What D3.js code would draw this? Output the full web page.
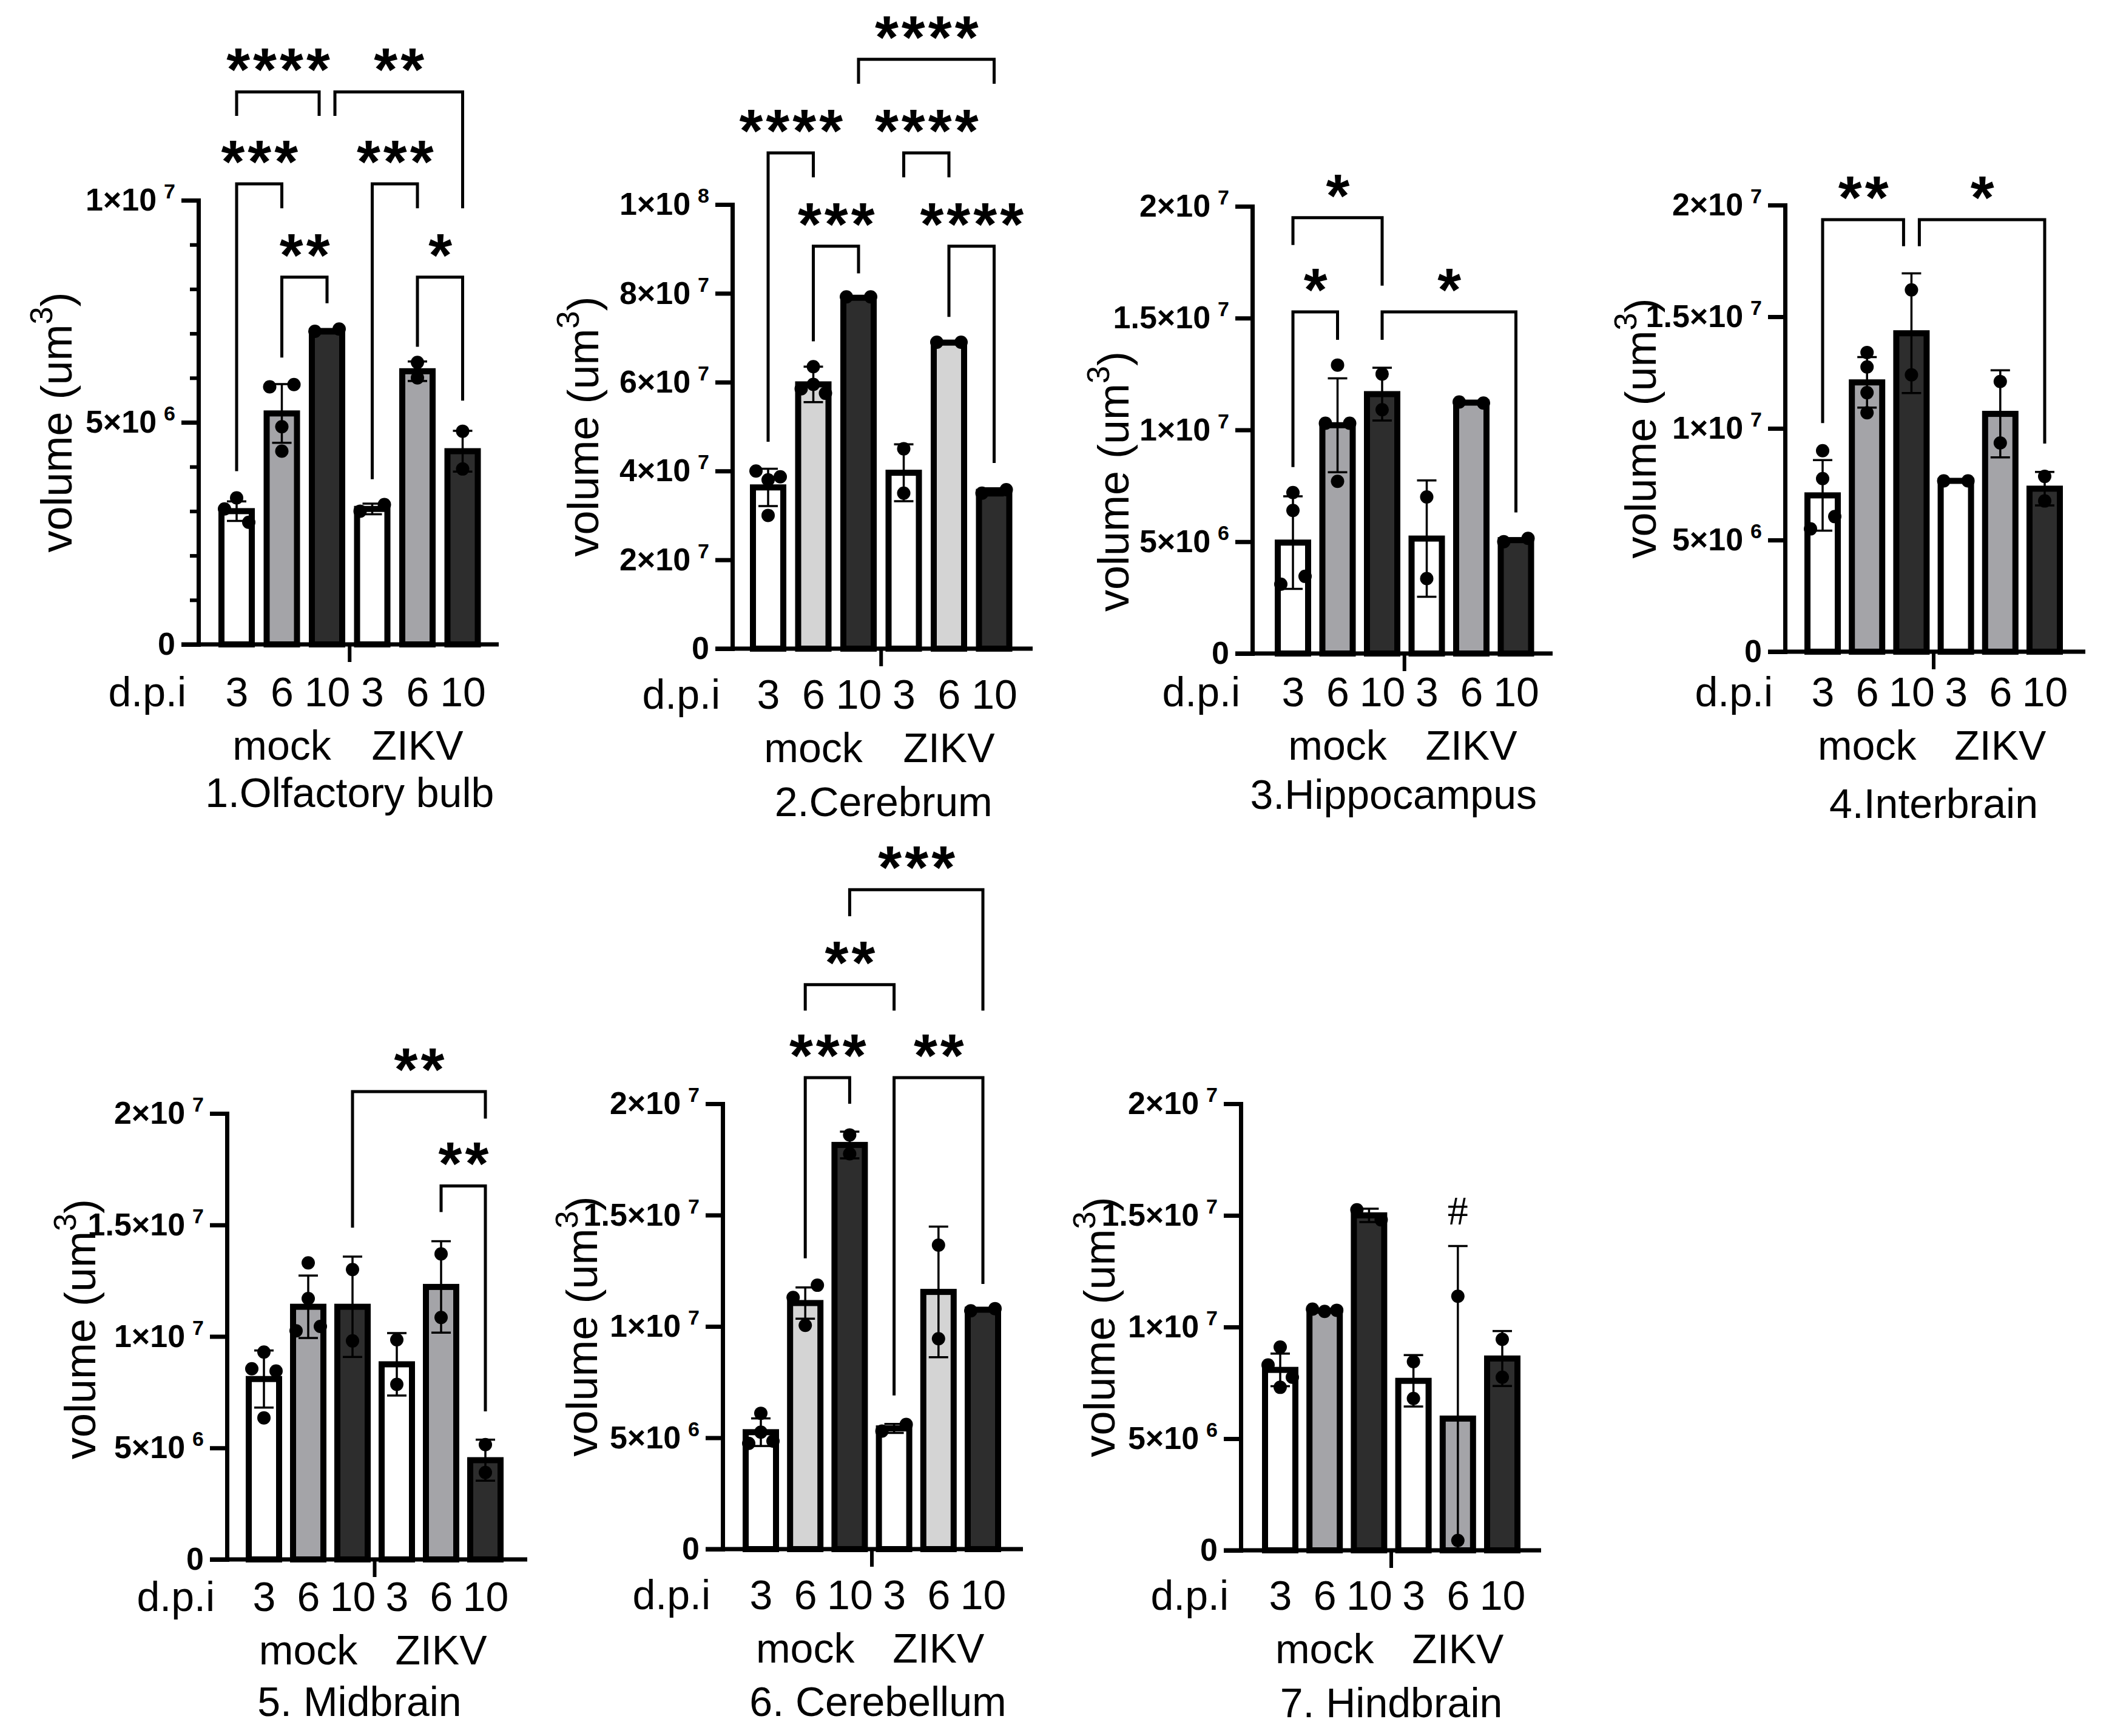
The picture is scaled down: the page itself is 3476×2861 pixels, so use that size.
<!DOCTYPE html>
<html>
<head>
<meta charset="utf-8">
<script src="https://cdn.jsdelivr.net/npm/d3@7"></script>
<style>
  body { margin: 0; background: #fff; }
  svg { display: block; }
</style>
</head>
<body>
<div id="chart"></div>
<script>
// -------------------- DATA --------------------

const groups = ["mock", "ZIKV"];
const barKeys = ["mock3", "mock6", "mock10", "zikv3", "zikv6", "zikv10"];
const dpiLabels = ["3", "6", "10", "3", "6", "10"];
const titles = ["1.Olfactory bulb", "2.Cerebrum", "3.Hippocampus", "4.Interbrain",
  "5. Midbrain", "6. Cerebellum", "7. Hindbrain"];

const ticks1e7 = [0, 5e6, 1e7];
const ticks1e7Labels = ["0", "5×10^6", "1×10^7"];
const minorTicks1e7 = [1e6, 2e6, 3e6, 4e6, 6e6, 7e6, 8e6, 9e6];
const ticks1e8 = [0, 2e7, 4e7, 6e7, 8e7, 1e8];
const ticks1e8Labels = ["0", "2×10^7", "4×10^7", "6×10^7", "8×10^7", "1×10^8"];
const ticks2e7 = [0, 5e6, 1e7, 1.5e7, 2e7];
const ticks2e7Labels = ["0", "5×10^6", "1×10^7", "1.5×10^7", "2×10^7"];

// 1. olfactory bulb
const olfactoryMean = [3.0e6, 5.2e6, 7.05e6, 3.05e6, 6.15e6, 4.35e6];
const olfactorySd = [0.22e6, 0.66e6, 0.05e6, 0.12e6, 0.22e6, 0.46e6];
const olfactoryPoints = [[3.05e6, 3.3e6, 2.75e6], [5.8e6, 5.85e6, 4.9e6, 4.35e6], [7.05e6, 7.1e6],
  [3.0e6, 3.15e6], [6.35e6, 6.0e6], [4.8e6, 3.95e6]];
const olfactoryBrackets = [
  ["mock3", "mock10", 12.44e6, 11.9e6, 11.9e6, "****"],
  ["mock10", "zikv10", 12.44e6, 11.9e6, 9.82e6, "**"],
  ["mock3", "mock6", 10.37e6, 3.9e6, 9.82e6, "***"],
  ["zikv3", "zikv6", 10.37e6, 3.72e6, 9.82e6, "***"],
  ["mock6", "mock10", 8.27e6, 6.46e6, 7.68e6, "**"],
  ["zikv6", "zikv10", 8.27e6, 6.7e6, 5.49e6, "*"]
];

// 2. cerebrum
const cerebrumMean = [3.63e7, 5.95e7, 7.9e7, 3.96e7, 6.89e7, 3.53e7];
const cerebrumSd = [0.42e7, 0.4e7, 0.03e7, 0.64e7, 0.02e7, 0.08e7];
const cerebrumPoints = [[4.0e7, 3.8e7, 3.87e7, 3.0e7], [6.35e7, 5.85e7, 5.95e7, 5.75e7], [7.92e7, 7.92e7],
  [4.5e7, 3.5e7], [6.9e7, 6.9e7], [3.5e7, 3.58e7]];
const cerebrumBrackets = [
  ["mock3", "mock6", 11.16e7, 4.66e7, 10.61e7, "****"],
  ["mock6", "mock10", 9.06e7, 6.92e7, 8.45e7, "***"],
  ["zikv3", "zikv6", 11.16e7, 10.61e7, 10.61e7, "****"],
  ["zikv6", "zikv10", 9.06e7, 7.47e7, 4.18e7, "****"],
  ["mock10", "zikv10", 13.27e7, 12.72e7, 12.72e7, "****"]
];

// 3. hippocampus
const hippocampusMean = [4.96e6, 10.21e6, 11.6e6, 5.14e6, 11.22e6, 5.07e6];
const hippocampusSd = [2.07e6, 2.1e6, 1.18e6, 2.6e6, 0.05e6, 0.08e6];
const hippocampusPoints = [[7.2e6, 6.4e6, 3.1e6, 3.45e6], [12.9e6, 10.3e6, 10.3e6, 7.7e6], [12.5e6, 10.9e6],
  [7.0e6, 3.35e6], [11.25e6, 11.2e6], [5.0e6, 5.15e6]];
const hippocampusBrackets = [
  ["mock3", "mock10", 19.49e6, 18.27e6, 16.45e6, "*"],
  ["mock3", "mock6", 15.28e6, 8.34e6, 14.03e6, "*"],
  ["mock10", "zikv10", 15.28e6, 14.03e6, 6.31e6, "*"]
];

// 4. interbrain
const interbrainMean = [7.0e6, 12.06e6, 14.26e6, 7.65e6, 10.65e6, 7.3e6];
const interbrainSd = [1.58e6, 1.13e6, 2.68e6, 0.05e6, 1.95e6, 0.75e6];
const interbrainPoints = [[9.0e6, 7.75e6, 5.5e6, 6.05e6], [13.4e6, 12.75e6, 11.6e6, 10.7e6], [16.2e6, 12.4e6],
  [7.65e6, 7.65e6], [12.1e6, 9.35e6], [7.85e6, 6.75e6]];
const interbrainBrackets = [
  ["mock3", "mock10", 19.35e6, 10.24e6, 18.16e6, "**"],
  ["mock10", "zikv10", 19.35e6, 18.16e6, 9.32e6, "*"]
];

// 5. midbrain
const midbrainMean = [8.09e6, 11.33e6, 11.33e6, 8.75e6, 12.22e6, 4.45e6];
const midbrainSd = [1.28e6, 1.4e6, 2.25e6, 1.4e6, 2.05e6, 0.92e6];
const midbrainPoints = [[9.3e6, 8.55e6, 8.45e6, 6.35e6], [13.3e6, 11.7e6, 10.25e6, 10.45e6], [13.0e6, 9.8e6],
  [9.85e6, 7.85e6], [13.7e6, 10.85e6], [5.15e6, 3.9e6]];
const midbrainBrackets = [
  ["mock10", "zikv10", 20.98e6, 14.88e6, 19.77e6, "**"],
  ["zikv6", "zikv10", 16.75e6, 15.58e6, 6.64e6, "**"]
];

// 6. cerebellum
const cerebellumMean = [5.25e6, 11.05e6, 18.15e6, 5.42e6, 11.55e6, 10.75e6];
const cerebellumSd = [0.62e6, 0.7e6, 0.6e6, 0.2e6, 2.93e6, 0.06e6];
const cerebellumPoints = [[6.1e6, 4.75e6, 5.25e6, 4.85e6], [11.3e6, 11.85e6, 10.05e6], [18.6e6, 17.75e6],
  [5.3e6, 5.6e6], [13.65e6, 9.45e6], [10.7e6, 10.8e6]];
const cerebellumBrackets = [
  ["mock6", "mock10", 21.17e6, 13.06e6, 20.0e6, "***"],
  ["zikv3", "zikv10", 21.17e6, 6.9e6, 11.91e6, "**"],
  ["mock6", "zikv3", 25.35e6, 24.18e6, 24.18e6, "**"],
  ["mock10", "zikv10", 29.61e6, 28.42e6, 24.18e6, "***"]
];

// 7. hindbrain
const hindbrainMean = [8.08e6, 10.73e6, 15.0e6, 7.59e6, 5.9e6, 8.59e6];
const hindbrainSd = [0.73e6, 0.05e6, 0.3e6, 1.15e6, 7.73e6, 1.23e6];
const hindbrainPoints = [[9.1e6, 8.3e6, 7.3e6, 7.75e6], [10.8e6, 10.7e6, 10.75e6], [15.25e6, 14.8e6],
  [8.45e6, 6.8e6], [11.38e6, 0.44e6], [9.45e6, 7.75e6]];
const hindbrainMarks = [["zikv6", 15.25e6, "#"]];

// -------------------- PANELS --------------------

const MID = "#a4a4a8", LIGHT = "#d4d4d4", DARK = "#2d2d2d";

const panels = [
  { title: titles[0], mean: olfactoryMean, sd: olfactorySd, pts: olfactoryPoints, max: 1e7,
    ticks: ticks1e7, labels: ticks1e7Labels, minor: minorTicks1e7, brackets: olfactoryBrackets, mid: MID },
  { title: titles[1], mean: cerebrumMean, sd: cerebrumSd, pts: cerebrumPoints, max: 1e8,
    ticks: ticks1e8, labels: ticks1e8Labels, brackets: cerebrumBrackets, mid: LIGHT },
  { title: titles[2], mean: hippocampusMean, sd: hippocampusSd, pts: hippocampusPoints, max: 2e7,
    ticks: ticks2e7, labels: ticks2e7Labels, brackets: hippocampusBrackets, mid: MID },
  { title: titles[3], mean: interbrainMean, sd: interbrainSd, pts: interbrainPoints, max: 2e7,
    ticks: ticks2e7, labels: ticks2e7Labels, brackets: interbrainBrackets, mid: MID },
  { title: titles[4], mean: midbrainMean, sd: midbrainSd, pts: midbrainPoints, max: 2e7,
    ticks: ticks2e7, labels: ticks2e7Labels, brackets: midbrainBrackets, mid: MID },
  { title: titles[5], mean: cerebellumMean, sd: cerebellumSd, pts: cerebellumPoints, max: 2e7,
    ticks: ticks2e7, labels: ticks2e7Labels, brackets: cerebellumBrackets, mid: LIGHT },
  { title: titles[6], mean: hindbrainMean, sd: hindbrainSd, pts: hindbrainPoints, max: 2e7,
    ticks: ticks2e7, labels: ticks2e7Labels, brackets: [], marks: hindbrainMarks, mid: MID }
];

// where each panel sits on the page (y axis x, zero y, top y ...)
const layout = [
  { x: 327, y0: 1062, y1: 330, bar0: 63, step: 74.5, titleDx: 0, titleDy: 268, labelDx: 209, labelDy: 0, shift: 4 },
  { x: 1207, y0: 1069, y1: 337, bar0: 59, step: 74.5, titleDx: 4, titleDy: 276, labelDx: 221, labelDy: 0, shift: 1 },
  { x: 2064, y0: 1077, y1: 340, bar0: 67, step: 73.5, titleDx: -18, titleDy: 256, labelDx: 204, labelDy: 85, shift: -11 },
  { x: 2942, y0: 1074, y1: 338, bar0: 62, step: 73.2, titleDx: 0, titleDy: 274, labelDx: 213, labelDy: 0, shift: -8 },
  { x: 374, y0: 2570, y1: 1835, bar0: 61, step: 73, titleDx: -25, titleDy: 258, labelDx: 217, labelDy: -12, shift: -13 },
  { x: 1191, y0: 2553, y1: 1819, bar0: 63, step: 73.2, titleDx: 10, titleDy: 275, labelDx: 207, labelDy: 0, shift: 1 },
  { x: 2045, y0: 2555, y1: 1819, bar0: 65, step: 73.2, titleDx: 0, titleDy: 275, labelDx: 208, labelDy: 0, shift: 0 }
];

const FONT = "'Liberation Sans', Arial, Helvetica, sans-serif";
const W = 3476, H = 2861;

const svg = d3.select("#chart")
  .append("svg")
  .attr("width", W)
  .attr("height", H)
  .attr("font-family", FONT);

svg.append("rect").attr("width", W).attr("height", H).attr("fill", "#fff");

// spread points that overlap vertically, like prism does
function spreadPoints(values, y) {
  const idx = values.map((v, i) => i).sort((a, b) => y(values[a]) - y(values[b]));
  const clusters = [];
  idx.forEach((i, k) => {
    if (k > 0 && Math.abs(y(values[i]) - y(values[idx[k - 1]])) < 22) clusters[clusters.length - 1].push(i);
    else clusters.push([i]);
  });
  const off = values.map(() => 0);
  clusters.forEach(c => {
    if (c.length < 2) return;
    c.sort((a, b) => a - b);
    c.forEach((i, k) => { off[i] = -20 + 40 * k / (c.length - 1); });
  });
  return off;
}

function drawPanel(p, L) {
  const g = svg.append("g");
  const y = d3.scaleLinear().domain([0, p.max]).range([L.y0, L.y1]);
  const x = d3.scalePoint().domain(barKeys).range([L.x + L.bar0, L.x + L.bar0 + 5 * L.step]);
  const fills = ["#ffffff", p.mid, DARK, "#ffffff", p.mid, DARK];
  const sepX = (x(barKeys[2]) + x(barKeys[3])) / 2;

  // bars
  g.selectAll(".bar")
    .data(p.mean)
    .enter()
    .append("rect")
    .attr("class", "bar")
    .attr("x", (d, i) => x(barKeys[i]) - 25)
    .attr("width", 50)
    .attr("y", d => y(d))
    .attr("height", d => L.y0 - y(d))
    .attr("fill", (d, i) => fills[i])
    .attr("stroke", "#000")
    .attr("stroke-width", 10);

  // error bars (mean +/- SD)
  p.mean.forEach((m, i) => {
    const cx = x(barKeys[i]);
    const lo = Math.max(0, m - p.sd[i]);
    const hi = m + p.sd[i];
    g.append("line").attr("x1", cx).attr("x2", cx).attr("y1", y(lo)).attr("y2", y(hi))
      .attr("stroke", "#000").attr("stroke-width", 3.5);
    g.append("line").attr("x1", cx - 16).attr("x2", cx + 16).attr("y1", y(hi)).attr("y2", y(hi))
      .attr("stroke", "#000").attr("stroke-width", 3.5);
    if (lo > 0) {
      g.append("line").attr("x1", cx - 16).attr("x2", cx + 16).attr("y1", y(lo)).attr("y2", y(lo))
        .attr("stroke", "#000").attr("stroke-width", 3.5);
    }
  });

  // individual animals
  p.pts.forEach((vals, i) => {
    const off = spreadPoints(vals, y);
    g.selectAll(null)
      .data(vals)
      .enter()
      .append("circle")
      .attr("cx", (d, k) => x(barKeys[i]) + off[k])
      .attr("cy", d => y(d))
      .attr("r", 11)
      .attr("fill", "#000");
  });

  // x axis line + group separator tick
  g.append("line").attr("x1", L.x - 28).attr("x2", L.x + 495).attr("y1", L.y0).attr("y2", L.y0)
    .attr("stroke", "#000").attr("stroke-width", 7);
  g.append("line").attr("x1", sepX).attr("x2", sepX).attr("y1", L.y0).attr("y2", L.y0 + 29)
    .attr("stroke", "#000").attr("stroke-width", 6);

  // y axis
  const yAxis = d3.axisLeft(y)
    .tickValues(p.ticks)
    .tickSize(28)
    .tickSizeOuter(0)
    .tickPadding(10)
    .tickFormat((d, i) => p.labels[i]);
  const ya = g.append("g")
    .attr("transform", `translate(${L.x},0)`)
    .call(yAxis)
    .attr("font-family", FONT)
    .attr("font-size", 52)
    .attr("font-weight", "bold");
  ya.select(".domain").attr("stroke-width", 7).attr("stroke-linecap", "square");
  ya.selectAll(".tick line").attr("stroke-width", 7);
  ya.selectAll(".tick text").each(function (d, i) {
    const t = d3.select(this);
    const parts = p.labels[i].split("^");
    t.text(null);
    t.append("tspan").text(parts[0]);
    if (parts[1]) {
      t.append("tspan").attr("dx", 12).attr("dy", -20).attr("font-size", 34).text(parts[1]);
    }
  });

  if (p.minor) {
    const ma = g.append("g")
      .attr("transform", `translate(${L.x},0)`)
      .call(d3.axisLeft(y).tickValues(p.minor).tickSize(14).tickFormat(""));
    ma.select(".domain").remove();
    ma.selectAll(".tick line").attr("stroke-width", 6);
  }

  // x labels
  const xa = g.append("g")
    .attr("transform", `translate(0,${L.y0 + L.shift})`)
    .call(d3.axisBottom(x).tickSize(0).tickPadding(50).tickFormat((d, i) => dpiLabels[i]))
    .attr("font-family", FONT)
    .attr("font-size", 68);
  xa.select(".domain").remove();

  g.append("text")
    .attr("x", L.x - 20)
    .attr("y", L.y0 + L.shift + 98)
    .attr("text-anchor", "end")
    .attr("font-size", 68)
    .text("d.p.i");

  g.selectAll(".grp")
    .data(groups)
    .enter()
    .append("text")
    .attr("class", "grp")
    .attr("x", (d, i) => x(barKeys[1 + 3 * i]))
    .attr("y", L.y0 + L.shift + 186)
    .attr("text-anchor", "middle")
    .attr("font-size", 68)
    .text(d => d);

  g.append("text")
    .attr("x", sepX + L.titleDx)
    .attr("y", L.y0 + L.titleDy)
    .attr("text-anchor", "middle")
    .attr("font-size", 68)
    .text(p.title);

  // y axis title
  const yl = g.append("text")
    .attr("transform", `translate(${L.x - L.labelDx},${(L.y0 + L.y1) / 2 + L.labelDy}) rotate(-90)`)
    .attr("text-anchor", "middle")
    .attr("font-size", 72);
  yl.append("tspan").text("volume (um");
  yl.append("tspan").attr("font-size", 52).attr("dy", -32).text("3");
  yl.append("tspan").attr("dy", 32).text(")");

  // significance brackets
  p.brackets.forEach(b => {
    const [from, to, level, legA, legB, label] = b;
    let xa0 = x(from), xb0 = x(to);
    // nudge ends when two brackets at the same height meet on one bar
    p.brackets.forEach(c => {
      if (c === b || c[2] !== level) return;
      if (c[0] === to) xb0 -= 13;
      if (c[1] === from) xa0 += 13;
    });
    g.append("path")
      .attr("d", `M${xa0},${y(legA)}V${y(level)}H${xb0}V${y(legB)}`)
      .attr("fill", "none")
      .attr("stroke", "#000")
      .attr("stroke-width", 5);
    g.append("text")
      .attr("x", (xa0 + xb0) / 2 + 3)
      .attr("y", y(level) - 2)
      .attr("text-anchor", "middle")
      .attr("font-size", 100)
      .attr("font-weight", "bold")
      .attr("letter-spacing", 5)
      .text(label);
  });

  (p.marks || []).forEach(m => {
    g.append("text")
      .attr("x", x(m[0]))
      .attr("y", y(m[1]) + 24)
      .attr("text-anchor", "middle")
      .attr("font-family", "'Liberation Serif', 'Times New Roman', serif")
      .attr("font-size", 68)
      .text(m[2]);
  });
}

panels.forEach((p, i) => drawPanel(p, layout[i]));
</script>
</body>
</html>
